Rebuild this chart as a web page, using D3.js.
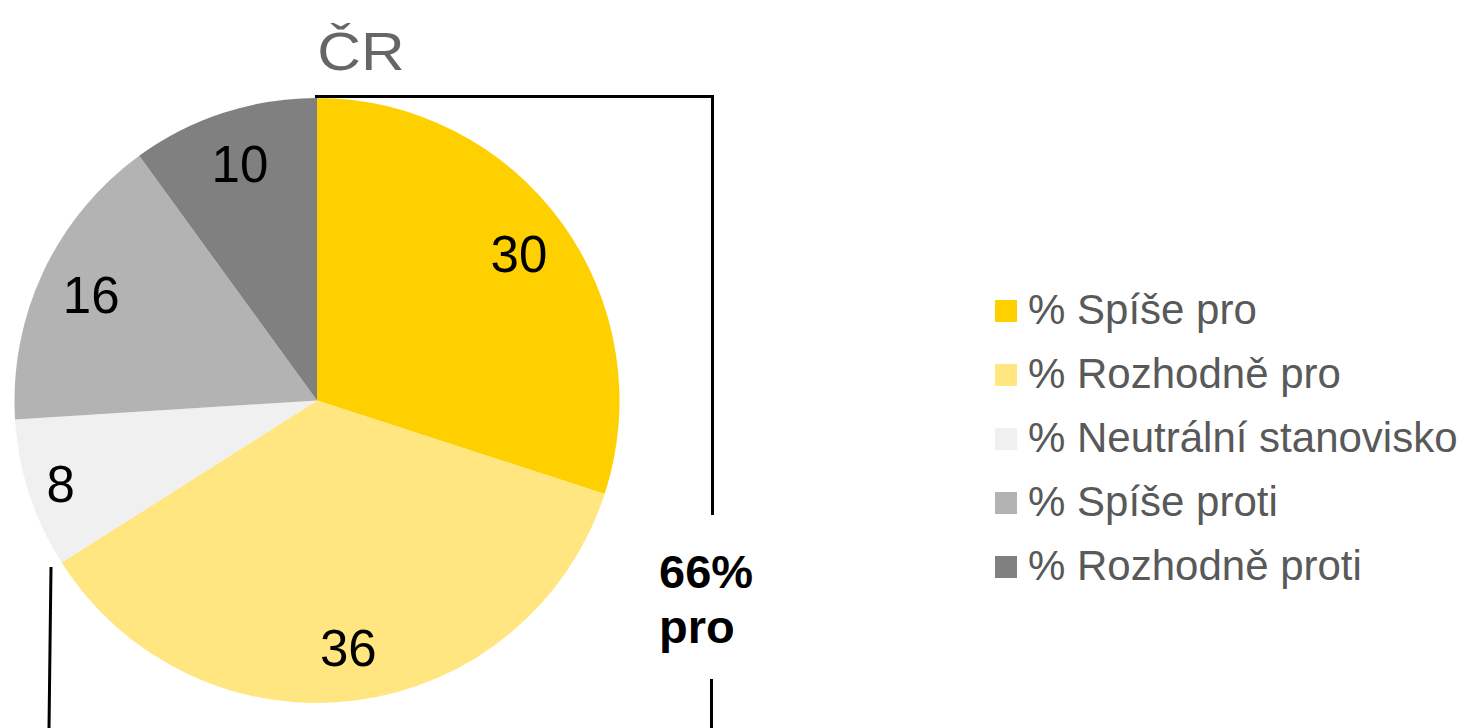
<!DOCTYPE html>
<html>
<head>
<meta charset="utf-8">
<script src="https://cdn.jsdelivr.net/npm/d3@7"></script>
<style>
  body { margin: 0; background: #fff; }
  svg { display: block; font-family: "Liberation Sans", Arial, sans-serif; }
</style>
</head>
<body>
<div id="container"></div>
<script>
// data
const categories = ["% Spíše pro", "% Rozhodně pro", "% Neutrální stanovisko", "% Spíše proti", "% Rozhodně proti"];
const values = [30, 36, 8, 16, 10];
const palette = ["#FFD000", "#FFE680", "#F0F0F0", "#B3B3B3", "#808080"];
const title = "ČR";
const sumLabel = ["66%", "pro"];

const w = 1466;
const h = 728;
const cx = 317, cy = 400.5, r = 302.5;

const svg = d3.select("#container")
  .append("svg")
  .attr("width", w)
  .attr("height", h);

const color = d3.scaleOrdinal().domain(categories).range(palette);

const pie = d3.pie().sort(null).value(d => d.v);
const arcs = pie(categories.map((c, i) => ({ c: c, v: values[i] })));

const arc = d3.arc().innerRadius(0).outerRadius(r);
const labelArc = d3.arc().innerRadius(r * 0.825).outerRadius(r * 0.825);

const g = svg.append("g").attr("transform", "translate(" + cx + "," + cy + ")");

g.selectAll("path")
  .data(arcs)
  .enter()
  .append("path")
  .attr("d", arc)
  .attr("fill", d => color(d.data.c));

g.selectAll("text")
  .data(arcs)
  .enter()
  .append("text")
  .attr("transform", d => {
    const p = labelArc.centroid(d);
    // small slice label sits a bit further out
    if (d.data.v < 10) { p[0] *= 1.08; p[1] *= 1.08; }
    return "translate(" + p + ")";
  })
  .attr("text-anchor", "middle")
  .attr("dy", "0.36em")
  .style("font-size", "51px")
  .style("fill", "#000")
  .text(d => d.data.v);

// title (the original face is a bit wider)
svg.append("text")
  .attr("transform", "translate(361,70) scale(1.12,1)")
  .attr("text-anchor", "middle")
  .style("font-size", "54px")
  .style("fill", "#666666")
  .text(title);

// bracket for "pro"
const bracket = svg.append("g")
  .attr("fill", "none")
  .attr("stroke", "#000")
  .attr("stroke-width", 3);

bracket.append("path").attr("d", "M" + (cx - 2) + "," + (cy - r - 1.5) + "H712.5V515");
bracket.append("path").attr("d", "M711.5,679V728");
bracket.append("path").attr("d", "M51,567L49,728");

const sum = svg.append("text")
  .attr("x", 659)
  .attr("y", 588)
  .style("font-size", "47px")
  .style("font-weight", "bold")
  .style("fill", "#000");
sum.selectAll("tspan")
  .data(sumLabel)
  .enter()
  .append("tspan")
  .attr("x", 659)
  .attr("dy", (d, i) => i === 0 ? 0 : 55)
  .text(d => d);

// legend
const legend = svg.append("g").attr("transform", "translate(995,311)");
const item = legend.selectAll("g")
  .data(categories)
  .enter()
  .append("g")
  .attr("transform", (d, i) => "translate(0," + (i * 64) + ")");

item.append("rect")
  .attr("x", 0)
  .attr("y", -11)
  .attr("width", 22)
  .attr("height", 22)
  .attr("fill", d => color(d));

item.append("text")
  .attr("x", 33)
  .attr("dy", "0.3em")
  .style("font-size", "42px")
  .style("fill", "#595959")
  .text(d => d);
</script>
</body>
</html>
